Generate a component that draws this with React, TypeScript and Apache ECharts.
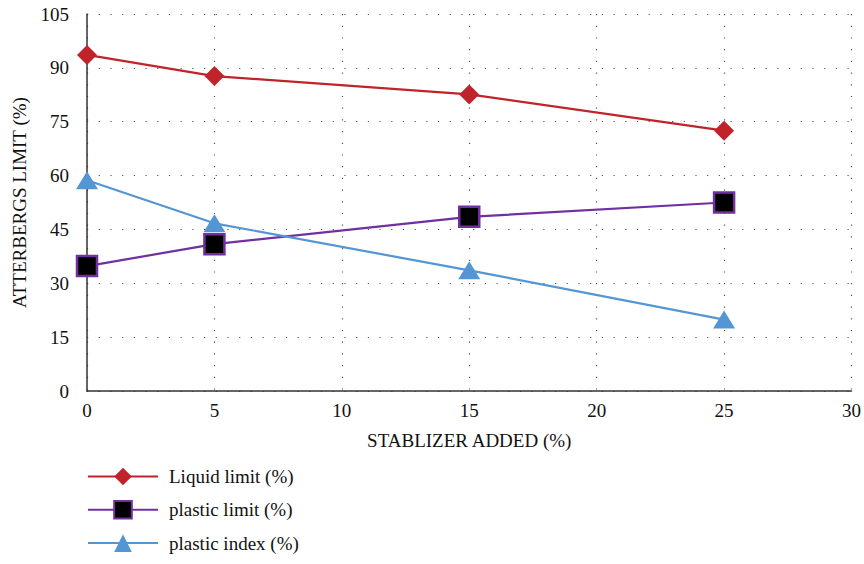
import React, { useEffect, useRef } from "react";
import * as echarts from "echarts";

const xValues = [0, 5, 15, 25];
const liquidLimit = [93.6, 87.7, 82.6, 72.5];
const plasticLimit = [34.8, 40.9, 48.5, 52.5];
const plasticIndex = [58.7, 46.7, 33.6, 19.9];

const seriesNames = ["Liquid limit (%)", "plastic limit (%)", "plastic index (%)"];
const xAxisName = "STABLIZER ADDED (%)";
const yAxisName = "ATTERBERGS LIMIT (%)";

const FONT = "Times New Roman, Liberation Serif, DejaVu Serif, serif";

export default function App() {
  const ref = useRef<HTMLDivElement>(null);
  useEffect(() => {
    if (!ref.current) return;
    const chart = echarts.init(ref.current, undefined, { renderer: "svg" });
    const pair = (ys: number[]) => xValues.map((x, i) => [x, ys[i]]);
    const split = {
      show: true,
      lineStyle: { color: "#555", width: 1.2, type: [1.2, 10.5] as any },
    };
    chart.setOption({
      animation: false,
      backgroundColor: "#fff",
      textStyle: { fontFamily: FONT },
      grid: { left: 87, right: 11, top: 14, bottom: 173, containLabel: false },
      xAxis: {
        type: "value",
        min: 0,
        max: 30,
        interval: 5,
        name: xAxisName,
        nameLocation: "middle",
        nameGap: 40,
        nameTextStyle: { fontFamily: FONT, fontSize: 19, color: "#111" },
        axisLine: { show: true, lineStyle: { color: "#333", width: 1.5 } },
        axisTick: { show: false },
        axisLabel: { fontFamily: FONT, fontSize: 19, color: "#111", margin: 10 },
        splitLine: split,
      },
      yAxis: {
        type: "value",
        min: 0,
        max: 105,
        interval: 15,
        name: yAxisName,
        nameLocation: "middle",
        nameGap: 58,
        nameTextStyle: { fontFamily: FONT, fontSize: 19, color: "#111" },
        axisLine: { show: true, lineStyle: { color: "#333", width: 1.5 } },
        axisTick: { show: false },
        axisLabel: { fontFamily: FONT, fontSize: 19, color: "#111", margin: 18 },
        splitLine: split,
      },
      legend: {
        orient: "vertical",
        left: 87,
        top: 467,
        padding: 0,
        itemWidth: 70,
        itemHeight: 22,
        itemGap: 14,
        textStyle: { fontFamily: FONT, fontSize: 19, color: "#111", padding: [0, 0, 0, 6] },
        data: seriesNames,
      },
      series: [
        {
          name: seriesNames[0],
          type: "line",
          data: pair(liquidLimit),
          symbol: "diamond",
          symbolSize: 20,
          lineStyle: { color: "#C1232B", width: 2.2 },
          itemStyle: { color: "#C1232B" },
        },
        {
          name: seriesNames[1],
          type: "line",
          data: pair(plasticLimit),
          symbol: "rect",
          symbolSize: 20,
          lineStyle: { color: "#7030A0", width: 2.2 },
          itemStyle: { color: "#000", borderColor: "#7030A0", borderWidth: 2.5 },
        },
        {
          name: seriesNames[2],
          type: "line",
          data: pair(plasticIndex),
          symbol: "triangle",
          symbolSize: [22, 18],
          lineStyle: { color: "#5496D3", width: 2.2 },
          itemStyle: { color: "#5496D3" },
        },
      ],
    });
    return () => chart.dispose();
  }, []);
  return (
    <div
      ref={ref}
      style={{ position: "absolute", left: 0, top: 0, width: 864, height: 564 }}
    />
  );
}
